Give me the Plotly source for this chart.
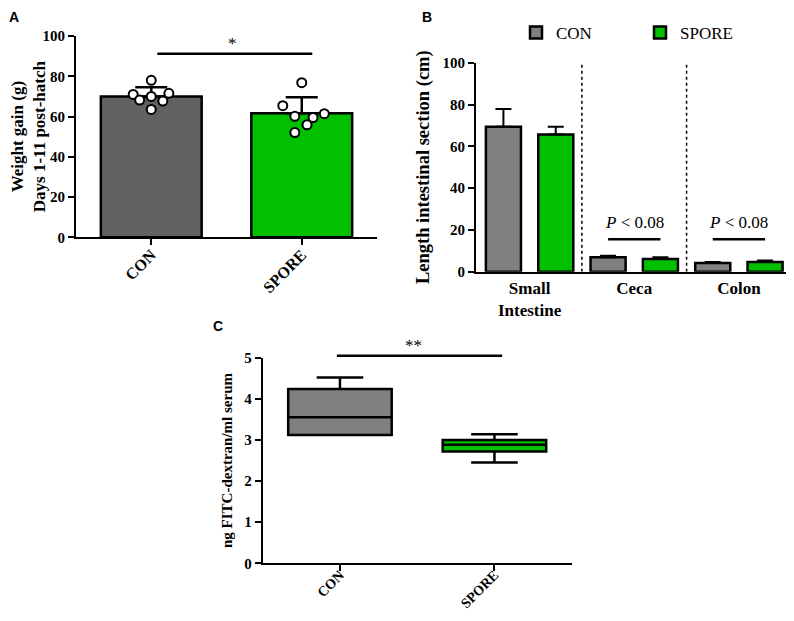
import plotly.graph_objects as go

groups = ['CON', 'SPORE']

# A - weight gain days 1-11 post-hatch (g)
gain_mean = [70.0, 61.6]
gain_err = [4.5, 8.0]
gain_con = [71.0, 68.2, 78.0, 70.0, 63.5, 67.7, 71.5]
gain_spore = [65.4, 60.1, 52.0, 76.8, 55.9, 59.5, 61.4]

# B - length of intestinal sections (cm)
sections = ['Small<br>Intestine', 'Ceca', 'Colon']
len_con = [69.4, 6.9, 4.2]
len_con_err = [8.4, 0.7, 0.4]
len_spore = [65.7, 6.1, 4.6]
len_spore_err = [3.7, 0.8, 0.7]

# C - FITC-dextran in serum (box stats)
fitc_q1 = [3.12, 2.72]
fitc_median = [3.55, 2.88]
fitc_q3 = [4.24, 3.00]
fitc_low = [3.12, 2.45]
fitc_high = [4.52, 3.14]

# beeswarm offsets for the dots in A (layout only)
con_offsets = [-0.12, -0.077, 0, 0, 0, 0.077, 0.117]
spore_offsets = [-0.126, -0.046, -0.046, 0, 0.035, 0.075, 0.15]

GREY_A = '#616161'
GREY = '#808080'
GREEN = '#00c000'
SERIF = 'Liberation Serif'

# page body has an 8px margin, so the figure is shrunk to fit the window
OFF = 8
W, H = 794 - 2 * OFF, 621 - 2 * OFF


def fx(x):
    return (x - OFF) / W


def fy(y):
    return 1 - (y - OFF) / H


fig = go.Figure()

# ---- A
fig.add_trace(go.Bar(x=[0, 1], y=gain_mean, width=0.67,
                     marker=dict(color=[GREY_A, GREEN], line=dict(color='black', width=2.5)),
                     error_y=dict(type='data', symmetric=False, array=gain_err, arrayminus=[0, 0],
                                  color='black', thickness=2.5, width=16),
                     showlegend=False, xaxis='x', yaxis='y'))
fig.add_trace(go.Scatter(x=[0 + o for o in con_offsets] + [1 + o for o in spore_offsets],
                         y=gain_con + gain_spore, mode='markers',
                         marker=dict(size=9, color='white', line=dict(color='black', width=2)),
                         showlegend=False, xaxis='x', yaxis='y'))

# ---- B
fig.add_trace(go.Bar(x=sections, y=len_con, name='CON', width=0.335, offset=-0.4175,
                     marker=dict(color=GREY, line=dict(color='black', width=2.5)),
                     error_y=dict(type='data', symmetric=False, array=len_con_err, arrayminus=[0, 0, 0],
                                  color='black', thickness=2, width=8),
                     xaxis='x2', yaxis='y2'))
fig.add_trace(go.Bar(x=sections, y=len_spore, name='SPORE', width=0.335, offset=0.0825,
                     marker=dict(color=GREEN, line=dict(color='black', width=2.5)),
                     error_y=dict(type='data', symmetric=False, array=len_spore_err, arrayminus=[0, 0, 0],
                                  color='black', thickness=2, width=8),
                     xaxis='x2', yaxis='y2'))

# ---- C
for i, (g, col) in enumerate(zip(groups, [GREY, GREEN])):
    fig.add_trace(go.Box(x=[g], q1=[fitc_q1[i]], median=[fitc_median[i]], q3=[fitc_q3[i]],
                         lowerfence=[fitc_low[i]], upperfence=[fitc_high[i]],
                         width=0.67, whiskerwidth=0.45, fillcolor=col,
                         line=dict(color='black', width=2.5),
                         showlegend=False, xaxis='x3', yaxis='y3'))

tick_font = dict(family=SERIF, size=15, color='black', weight='bold')
cat_font = dict(family=SERIF, size=16, color='black', weight='bold')
axis_common = dict(showline=True, linecolor='black', linewidth=2, showgrid=False, automargin=False,
                   zeroline=False, ticks='outside', ticklen=6, tickwidth=2, tickcolor='black')

fig.update_layout(
    width=W, height=H, margin=dict(l=0, r=0, t=0, b=0, autoexpand=False),
    paper_bgcolor='white', plot_bgcolor='white',
    xaxis=dict(domain=[fx(76), fx(377)], range=[-0.5, 1.5], tickvals=[0, 1], ticktext=groups,
               tickangle=-45, tickfont=cat_font, ticklabelstandoff=-6, anchor='y', **axis_common),
    yaxis=dict(domain=[fy(237.3), fy(36)], range=[0, 100], dtick=20, tickfont=tick_font,
               anchor='x',
               title=dict(text='Weight gain (g)<br>Days 1-11 post-hatch', standoff=8,
                          font=dict(family=SERIF, size=17, color='black', weight='bold')),
               **axis_common),
    xaxis2=dict(domain=[fx(476), 1], range=[-0.512, 2.45], type='category',
                tickfont=dict(family=SERIF, size=17, color='black', weight='bold'), anchor='y2',
                automargin=False, showline=True, linecolor='black', linewidth=2, showgrid=False,
                zeroline=False, ticks=''),
    yaxis2=dict(domain=[fy(271.7), fy(62.7)], range=[0, 100], dtick=20, tickfont=tick_font,
                anchor='x2',
                title=dict(text='Length intestinal section (cm)', standoff=8,
                           font=dict(family=SERIF, size=18.5, color='black', weight='bold')),
                **axis_common),
    xaxis3=dict(domain=[fx(262.7), fx(571.7)], range=[-0.5, 1.5], type='category',
                tickangle=-45, tickfont=dict(family=SERIF, size=14, color='black', weight='bold'),
                ticklabelstandoff=-10, anchor='y3', **axis_common),
    yaxis3=dict(domain=[fy(563.3), fy(357.7)], range=[0, 5], dtick=1, tickfont=tick_font,
                anchor='x3',
                title=dict(text='ng FITC-dextran/ml serum', standoff=8,
                           font=dict(family=SERIF, size=15, color='black', weight='bold')),
                **axis_common),
    legend=dict(orientation='h', x=fx(516), y=fy(15), xanchor='left', yanchor='top',
                font=dict(family=SERIF, size=17, color='black'),
                entrywidth=79, entrywidthmode='pixels', bgcolor='rgba(0,0,0,0)'),
    boxmode='overlay',
)

# significance lines
sig = dict(type='line', line=dict(color='black', width=2.5))
fig.add_shape(x0=0.04, x1=1.07, y0=91.2, y1=91.2, xref='x', yref='y', **sig)
for c in [1, 2]:
    fig.add_shape(x0=c - 0.25, x1=c + 0.25, y0=15.5, y1=15.5, xref='x2', yref='y2', **sig)
fig.add_shape(x0=-0.02, x1=1.05, y0=fy(355.7), y1=fy(355.7), xref='x3', yref='paper', **sig)

# dotted separators in B
for s in [0.5, 1.5]:
    fig.add_shape(type='line', x0=s, x1=s, y0=0, y1=100, xref='x2', yref='y2',
                  line=dict(color='black', width=1.5, dash='dot'))

note_font = dict(family=SERIF, size=17, color='black')
fig.add_annotation(x=0.54, y=96.5, xref='x', yref='y', text='*', showarrow=False, font=note_font)
fig.add_annotation(x=0.474, y=fy(345), xref='x3', yref='paper', text='**',
                   showarrow=False, font=note_font)
for c in [1, 2]:
    fig.add_annotation(x=c, y=23.4, xref='x2', yref='y2', text='<i>P</i> < 0.08',
                       showarrow=False, font=note_font)

letter_font = dict(family='Liberation Sans', size=14, color='black', weight='bold')
for txt, px, py in [('A', 14, 17), ('B', 427, 17), ('C', 218, 326)]:
    fig.add_annotation(x=fx(px), y=fy(py), xref='paper', yref='paper', text=txt,
                       showarrow=False, font=letter_font, xanchor='center', yanchor='middle')

fig.write_html("out.html")
